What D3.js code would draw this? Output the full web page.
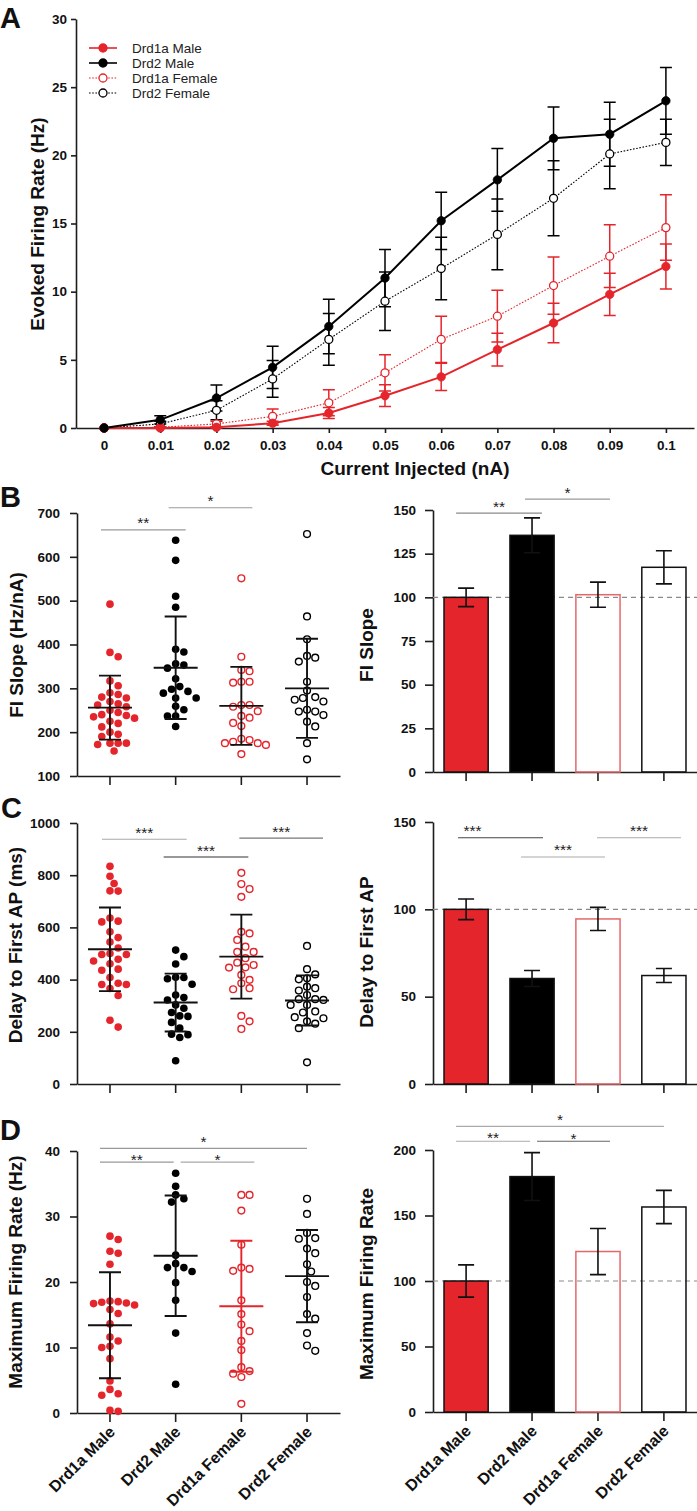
<!DOCTYPE html>
<html>
<head>
<meta charset="utf-8">
<script src="https://cdnjs.cloudflare.com/ajax/libs/d3/7.8.5/d3.min.js"></script>
<style>
  body { margin: 0; background: #fff; }
  svg { display: block; }
</style>
</head>
<body>
<svg id="fig" width="697" height="1511"></svg>
<script>
// ---- data ----
var groups = ['Drd1a Male', 'Drd2 Male', 'Drd1a Female', 'Drd2 Female'];

// A: evoked firing rate vs injected current (mean, sem)
var currents = [0, 0.01, 0.02, 0.03, 0.04, 0.05, 0.06, 0.07, 0.08, 0.09, 0.1];
var d1MaleRate = [0, 0, 0.05, 0.35, 1.1, 2.37, 3.75, 5.75, 7.7, 9.8, 11.85];
var d1MaleSem = [0, 0, 0.05, 0.15, 0.4, 0.8, 1.0, 1.2, 1.45, 1.55, 1.65];
var d2MaleRate = [0, 0.6, 2.2, 4.45, 7.45, 11.0, 15.2, 18.2, 21.25, 21.55, 24.0];
var d2MaleSem = [0, 0.3, 0.95, 1.55, 2.0, 2.1, 2.1, 2.3, 2.3, 2.35, 2.45];
var d1FemaleRate = [0, 0.05, 0.3, 0.85, 1.85, 4.05, 6.5, 8.2, 10.45, 12.6, 14.7];
var d1FemaleSem = [0, 0.05, 0.2, 0.55, 0.95, 1.33, 1.7, 1.9, 2.1, 2.3, 2.4];
var d2FemaleRate = [0, 0.3, 1.3, 3.6, 6.5, 9.3, 11.7, 14.2, 16.85, 20.1, 20.95];
var d2FemaleSem = [0, 0.2, 0.7, 1.35, 1.9, 2.15, 2.3, 2.6, 2.75, 2.55, 1.7];

// B: FI slope per cell (Hz/nA), mean +/- SD, normalised mean +/- sem
var fiD1Male = [492, 382, 372, 317, 306, 290, 286, 280, 278, 270, 265, 262, 258, 250, 245, 240, 238, 235, 232, 225, 220, 212, 200, 195, 190, 175, 175, 175, 172, 157];
var fiD2Male = [638, 592, 510, 485, 389, 383, 356, 353, 346, 322, 304, 298, 293, 289, 278, 278, 259, 251, 237, 237, 213];
var fiD1Female = [551, 372, 342, 339, 315, 315, 313, 262, 262, 258, 248, 237, 233, 221, 214, 185, 182, 178, 175, 175, 171, 150];
var fiD2Female = [652, 464, 412, 374, 370, 361, 315, 295, 280, 278, 274, 270, 251, 247, 247, 239, 224, 213, 175, 138];
var fiMean = [256, 347, 260, 300];
var fiSd = [73, 117, 89, 113];
var fiNorm = [100, 135.5, 101.5, 117.2];
var fiNormSem = [5.3, 10, 7.2, 9.5];

// C: delay to first AP (ms)
var delayD1Male = [834, 796, 768, 740, 739, 636, 624, 621, 583, 561, 544, 521, 500, 496, 496, 478, 471, 461, 440, 436, 408, 386, 381, 381, 366, 339, 244, 218];
var delayD2Male = [513, 488, 460, 409, 408, 403, 382, 341, 331, 322, 303, 290, 274, 261, 259, 236, 214, 191, 189, 178, 89];
var delayD1Female = [809, 766, 747, 717, 583, 577, 552, 526, 506, 506, 482, 465, 456, 447, 446, 418, 399, 386, 367, 363, 261, 240, 211];
var delayD2Female = [529, 440, 420, 405, 401, 373, 367, 358, 341, 325, 325, 322, 303, 303, 278, 274, 256, 252, 240, 231, 214, 83];
var delayMean = [516, 312, 488, 320];
var delaySd = [160, 111, 161, 96];
var delayNorm = [100, 60.4, 94.5, 62.1];
var delayNormSem = [5.9, 4.6, 6.6, 4.0];

// D: maximum firing rate (Hz)
var maxD1Male = [27.0, 26.5, 24.7, 24.4, 22.7, 17.1, 17.0, 16.9, 16.8, 16.7, 16.5, 15.8, 15.2, 13.6, 11.6, 11.0, 10.2, 10.0, 8.3, 4.9, 3.6, 2.95, 2.7, 0.4, 0.25];
var maxD2Male = [36.6, 34.6, 33.3, 32.7, 32.2, 24.1, 22.8, 22.2, 22.2, 21.6, 19.9, 17.2, 12.2, 4.4];
var maxD1Female = [33.3, 33.3, 30.9, 25.7, 22.2, 22.0, 21.7, 17.2, 15.1, 13.5, 12.5, 11.0, 9.6, 7.0, 6.4, 6.0, 5.5, 1.4];
var maxD2Female = [32.7, 30.4, 27.5, 26.7, 26.6, 25.1, 24.4, 22.7, 21.6, 20.0, 19.4, 17.7, 15.1, 14.4, 12.2, 10.3, 9.5];
var maxMean = [13.4, 24.0, 16.3, 20.9];
var maxSd = [8.1, 9.2, 10.0, 7.05];
var maxNorm = [100, 179.7, 122.5, 156.5];
var maxNormSem = [12.3, 18.3, 17.6, 12.7];

// ---- styling ----
var FONT = '"Liberation Sans", Arial, Helvetica, sans-serif';
var RED = '#e4252b';
var RED_EDGE = '#e4676b';
var groupColor = [RED, '#000', RED, '#000'];
var groupFilled = [true, true, false, false];

var svg = d3.select('#fig').attr('font-family', FONT);

function styleAxis(g) {
  g.attr('font-family', FONT);
  g.selectAll('path.domain, .tick line').attr('stroke', '#1d1d1d').attr('stroke-width', 1.6);
  g.selectAll('.tick text').attr('font-size', 13.5).attr('font-weight', 'bold').attr('fill', '#111');
}

function vTitle(x, y, label) {
  svg.append('text')
    .attr('transform', 'translate(' + x + ',' + y + ') rotate(-90)')
    .attr('dy', '0.35em')
    .attr('text-anchor', 'middle')
    .attr('font-size', 19)
    .attr('font-weight', 'bold')
    .attr('fill', '#111')
    .text(label);
}

function panelLetter(x, y, label) {
  svg.append('text').attr('x', x).attr('y', y)
    .attr('font-size', 29).attr('font-weight', 'bold').attr('fill', '#111')
    .text(label);
}

// ---- A: FI curves ----
var xA = d3.scaleLinear().domain([-0.005, 0.105]).range([76, 694]);
var yA = d3.scaleLinear().domain([0, 30]).range([428, 19]);

svg.append('g').attr('transform', 'translate(0,428)')
  .call(d3.axisBottom(xA).tickValues(currents).tickFormat(d3.format('~g')).tickSize(5).tickPadding(7).tickSizeOuter(0))
  .call(styleAxis);
svg.append('g').attr('transform', 'translate(76,0)')
  .call(d3.axisLeft(yA).tickValues(d3.range(0, 31, 5)).tickSize(5).tickPadding(4).tickSizeOuter(0))
  .call(styleAxis);

var seriesA = [
  { name: groups[3], values: d2FemaleRate, sem: d2FemaleSem, color: '#000', filled: false, dash: '1.6,1.6', width: 1.1 },
  { name: groups[2], values: d1FemaleRate, sem: d1FemaleSem, color: RED, filled: false, dash: '1.6,1.6', width: 1.1 },
  { name: groups[0], values: d1MaleRate, sem: d1MaleSem, color: RED, filled: true, dash: null, width: 2 },
  { name: groups[1], values: d2MaleRate, sem: d2MaleSem, color: '#000', filled: true, dash: null, width: 2 }
];

var lineA = d3.line()
  .x(function(d, i) { return xA(currents[i]); })
  .y(function(d) { return yA(d); });

seriesA.forEach(function(s) {
  var g = svg.append('g');
  s.values.forEach(function(v, i) {
    if (!s.sem[i]) return;
    var cx = xA(currents[i]);
    var lo = yA(v - s.sem[i]), hi = yA(v + s.sem[i]);
    g.append('path')
      .attr('d', 'M' + cx + ',' + lo + 'V' + hi + 'M' + (cx - 6) + ',' + lo + 'H' + (cx + 6) + 'M' + (cx - 6) + ',' + hi + 'H' + (cx + 6))
      .attr('stroke', s.color).attr('stroke-width', 1.5).attr('fill', 'none');
  });
});

seriesA.forEach(function(s) {
  svg.append('path').datum(s.values)
    .attr('d', lineA)
    .attr('fill', 'none')
    .attr('stroke', s.color)
    .attr('stroke-width', s.width)
    .attr('stroke-dasharray', s.dash);
});

seriesA.forEach(function(s) {
  svg.append('g').selectAll('circle')
    .data(s.values)
    .enter().append('circle')
    .attr('cx', function(d, i) { return xA(currents[i]); })
    .attr('cy', function(d) { return yA(d); })
    .attr('r', s.filled ? 4.2 : 4)
    .attr('fill', s.filled ? s.color : '#fff')
    .attr('stroke', s.color)
    .attr('stroke-width', s.filled ? 0.8 : 1.3);
});

// legend (in group order)
var legendOrder = [2, 3, 1, 0];
legendOrder.forEach(function(si, i) {
  var s = seriesA[si];
  var ly = 48 + i * 15;
  svg.append('line').attr('x1', 89).attr('x2', 117).attr('y1', ly).attr('y2', ly)
    .attr('stroke', s.color).attr('stroke-width', s.filled ? 1.6 : 1.1).attr('stroke-dasharray', s.dash);
  svg.append('circle').attr('cx', 103).attr('cy', ly).attr('r', 4)
    .attr('fill', s.filled ? s.color : '#fff').attr('stroke', s.color).attr('stroke-width', 1.3);
  svg.append('text').attr('x', 132).attr('y', ly).attr('dy', '0.35em')
    .attr('font-size', 13.5).attr('fill', '#222').text(s.name);
});

svg.append('text').attr('x', 415).attr('y', 475).attr('text-anchor', 'middle')
  .attr('font-size', 19).attr('font-weight', 'bold').attr('fill', '#111')
  .text('Current Injected (nA)');
vTitle(37, 224, 'Evoked Firing Rate (Hz)');
panelLetter(0, 28, 'A');

// ---- B, C, D ----
var xL = d3.scaleBand().domain(groups).range([77, 340]).paddingInner(0.33).paddingOuter(0.167);
var xR = d3.scaleBand().domain(groups).range([433, 697]).paddingInner(0.33).paddingOuter(0.167);

function center(x, name) { return x(name) + x.bandwidth() / 2; }

// simple beeswarm: keep each point at its value, push sideways until it no longer overlaps
function swarm(values, y, r) {
  var d = 2 * r + 0.8;
  var placed = [];
  values.map(function(v) { return { v: v, y: y(v) }; })
    .sort(function(a, b) { return a.y - b.y; })
    .forEach(function(p) {
      for (var k = 0; ; k++) {
        var off = (k % 2 ? 1 : -1) * Math.ceil(k / 2) * d / 2;
        var free = placed.every(function(q) {
          return (q.dx - off) * (q.dx - off) + (q.y - p.y) * (q.y - p.y) >= d * d;
        });
        if (free) { p.dx = off; break; }
      }
      placed.push(p);
    });
  return placed;
}

function drawSig(x, y, list) {
  list.forEach(function(s) {
    var pad = s.pad || [9, 9];
    var x1 = center(x, groups[s.a]) - pad[0];
    var x2 = center(x, groups[s.b]) + pad[1];
    var ly = y(s.y);
    svg.append('line').attr('x1', x1).attr('x2', x2).attr('y1', ly).attr('y2', ly)
      .attr('stroke', s.color).attr('stroke-width', 1.1);
    svg.append('text').attr('x', (x1 + x2) / 2 + (s.tdx || 0)).attr('y', ly - 1.5 + (s.tdy || 0))
      .attr('text-anchor', 'middle').attr('font-size', 15.5).attr('fill', '#222')
      .text(s.label);
  });
}

function categoryAxis(x, baseY, showLabels) {
  svg.append('g').attr('transform', 'translate(0,' + baseY + ')')
    .call(d3.axisBottom(x).tickSize(9).tickSizeOuter(0).tickFormat(function() { return ''; }))
    .call(styleAxis);
  if (!showLabels) return;
  groups.forEach(function(name) {
    svg.append('text')
      .attr('transform', 'translate(' + (center(x, name) + 6) + ',' + (baseY + 20) + ') rotate(-45)')
      .attr('text-anchor', 'end')
      .attr('font-size', 16).attr('font-weight', 'bold').attr('fill', '#111')
      .text(name);
  });
}

function scatterPanel(p) {
  var y = d3.scaleLinear().domain(p.domain).range(p.range);
  categoryAxis(xL, p.range[0], p.showLabels);
  svg.append('g').attr('transform', 'translate(77,0)')
    .call(d3.axisLeft(y).tickValues(p.ticks).tickFormat(d3.format('d')).tickSize(7).tickPadding(10).tickSizeOuter(0))
    .call(styleAxis);

  p.values.forEach(function(vals, i) {
    var cx = center(xL, groups[i]);
    var filled = groupFilled[i];
    svg.append('g').selectAll('circle')
      .data(swarm(vals, y, 3.7))
      .enter().append('circle')
      .attr('cx', function(d) { return cx + d.dx; })
      .attr('cy', function(d) { return d.y; })
      .attr('r', filled ? 3.8 : 3.4)
      .attr('fill', filled ? groupColor[i] : 'none')
      .attr('stroke', groupColor[i])
      .attr('stroke-width', filled ? 0 : 1.4);
  });

  p.mean.forEach(function(m, i) {
    var cx = center(xL, groups[i]);
    var lo = y(m - p.sd[i]), hi = y(m + p.sd[i]), my = y(m);
    svg.append('path')
      .attr('d', 'M' + cx + ',' + lo + 'V' + hi +
        'M' + (cx - 11) + ',' + lo + 'H' + (cx + 11) +
        'M' + (cx - 11) + ',' + hi + 'H' + (cx + 11) +
        'M' + (cx - 22) + ',' + my + 'H' + (cx + 22))
      .attr('fill', 'none').attr('stroke', p.lineColor[i]).attr('stroke-width', 1.9);
  });

  drawSig(xL, y, p.sig);
  vTitle(p.titleX, p.titleY, p.title);
}

function barPanel(p) {
  var y = d3.scaleLinear().domain(p.domain).range(p.range);
  categoryAxis(xR, p.range[0], p.showLabels);
  svg.append('g').attr('transform', 'translate(433,0)')
    .call(d3.axisLeft(y).tickValues(p.ticks).tickSize(8).tickPadding(9).tickSizeOuter(0))
    .call(styleAxis);

  svg.append('line').attr('x1', 433).attr('x2', 697).attr('y1', y(100)).attr('y2', y(100))
    .attr('stroke', '#8a8a8a').attr('stroke-width', 1.1).attr('stroke-dasharray', '5,4');

  svg.append('g').selectAll('rect')
    .data(p.values)
    .enter().append('rect')
    .attr('x', function(d, i) { return xR(groups[i]); })
    .attr('width', xR.bandwidth())
    .attr('y', function(d) { return y(d); })
    .attr('height', function(d) { return y(0) - y(d); })
    .attr('fill', function(d, i) { return groupFilled[i] ? groupColor[i] : 'none'; })
    .attr('stroke', function(d, i) { return i === 2 ? RED_EDGE : '#111'; })
    .attr('stroke-width', 1.5);

  p.values.forEach(function(v, i) {
    var cx = center(xR, groups[i]);
    var lo = y(v - p.sem[i]), hi = y(v + p.sem[i]);
    svg.append('path')
      .attr('d', 'M' + cx + ',' + lo + 'V' + hi +
        'M' + (cx - 8) + ',' + lo + 'H' + (cx + 8) +
        'M' + (cx - 8) + ',' + hi + 'H' + (cx + 8))
      .attr('fill', 'none').attr('stroke', '#111').attr('stroke-width', 1.6);
  });

  drawSig(xR, y, p.sig);
  vTitle(366, p.titleY, p.title);
}

// B
scatterPanel({
  domain: [100, 700], range: [776, 513], ticks: d3.range(100, 701, 100),
  values: [fiD1Male, fiD2Male, fiD1Female, fiD2Female], mean: fiMean, sd: fiSd,
  lineColor: ['#111', '#111', '#111', '#111'],
  sig: [
    { a: 0, b: 1, label: '**', y: 661.6, color: '#9a9a9a', pad: [9, 10] },
    { a: 1, b: 2, label: '*', y: 712, color: '#9a9a9a', pad: [7, 11] }
  ],
  title: 'FI Slope (Hz/nA)', titleX: 16, titleY: 645, showLabels: false
});
barPanel({
  domain: [0, 150], range: [772, 510], ticks: d3.range(0, 151, 25),
  values: fiNorm, sem: fiNormSem,
  sig: [
    { a: 0, b: 1, label: '**', y: 148.2, color: '#8a8a8a', pad: [10, 10] },
    { a: 1, b: 2, label: '*', y: 156.2, color: '#9a9a9a', pad: [7, 12] }
  ],
  title: 'FI Slope', titleY: 645, showLabels: false
});
panelLetter(0, 507, 'B');

// C
scatterPanel({
  domain: [0, 1000], range: [1084, 823], ticks: d3.range(0, 1001, 200),
  values: [delayD1Male, delayD2Male, delayD1Female, delayD2Female], mean: delayMean, sd: delaySd,
  lineColor: ['#111', '#111', '#111', '#111'],
  sig: [
    { a: 0, b: 1, label: '***', y: 938, color: '#a8a8a8', pad: [8, 11] },
    { a: 1, b: 2, label: '***', y: 869.5, color: '#333', pad: [12, 7] },
    { a: 2, b: 3, label: '***', y: 942, color: '#777', pad: [2, 16] }
  ],
  title: 'Delay to First AP (ms)', titleX: 15, titleY: 945, showLabels: false
});
barPanel({
  domain: [0, 150], range: [1084, 822], ticks: d3.range(0, 151, 50),
  values: delayNorm, sem: delayNormSem,
  sig: [
    { a: 0, b: 1, label: '***', y: 141, color: '#444', pad: [8, 11], tdx: -28 },
    { a: 1, b: 2, label: '***', y: 130, color: '#aaa', pad: [11, 7] },
    { a: 2, b: 3, label: '***', y: 141, color: '#aaa', pad: [1, 17] }
  ],
  title: 'Delay to First AP', titleY: 952, showLabels: false
});
panelLetter(1, 818, 'C');

// D
scatterPanel({
  domain: [0, 40], range: [1413, 1151], ticks: d3.range(0, 41, 10),
  values: [maxD1Male, maxD2Male, maxD1Female, maxD2Female], mean: maxMean, sd: maxSd,
  lineColor: ['#111', '#111', RED, '#111'],
  sig: [
    { a: 0, b: 3, label: '*', y: 40.4, color: '#999', pad: [10, 0] },
    { a: 0, b: 1, label: '**', y: 38.3, color: '#999', pad: [10, -2], tdy: 4 },
    { a: 1, b: 2, label: '*', y: 38.3, color: '#aaa', pad: [-5, 13], tdy: 4 }
  ],
  title: 'Maximum Firing Rate (Hz)', titleX: 15, titleY: 1272, showLabels: true
});
barPanel({
  domain: [0, 200], range: [1412, 1150], ticks: d3.range(0, 201, 50),
  values: maxNorm, sem: maxNormSem,
  sig: [
    { a: 0, b: 3, label: '*', y: 218, color: '#aaa', pad: [10, 0] },
    { a: 0, b: 1, label: '**', y: 206.7, color: '#aaa', pad: [10, -2], tdy: 3 },
    { a: 1, b: 2, label: '*', y: 206.7, color: '#666', pad: [-5, 12], tdy: 4 }
  ],
  title: 'Maximum Firing Rate', titleY: 1284, showLabels: true
});
panelLetter(0, 1140, 'D');
</script>
</body>
</html>
